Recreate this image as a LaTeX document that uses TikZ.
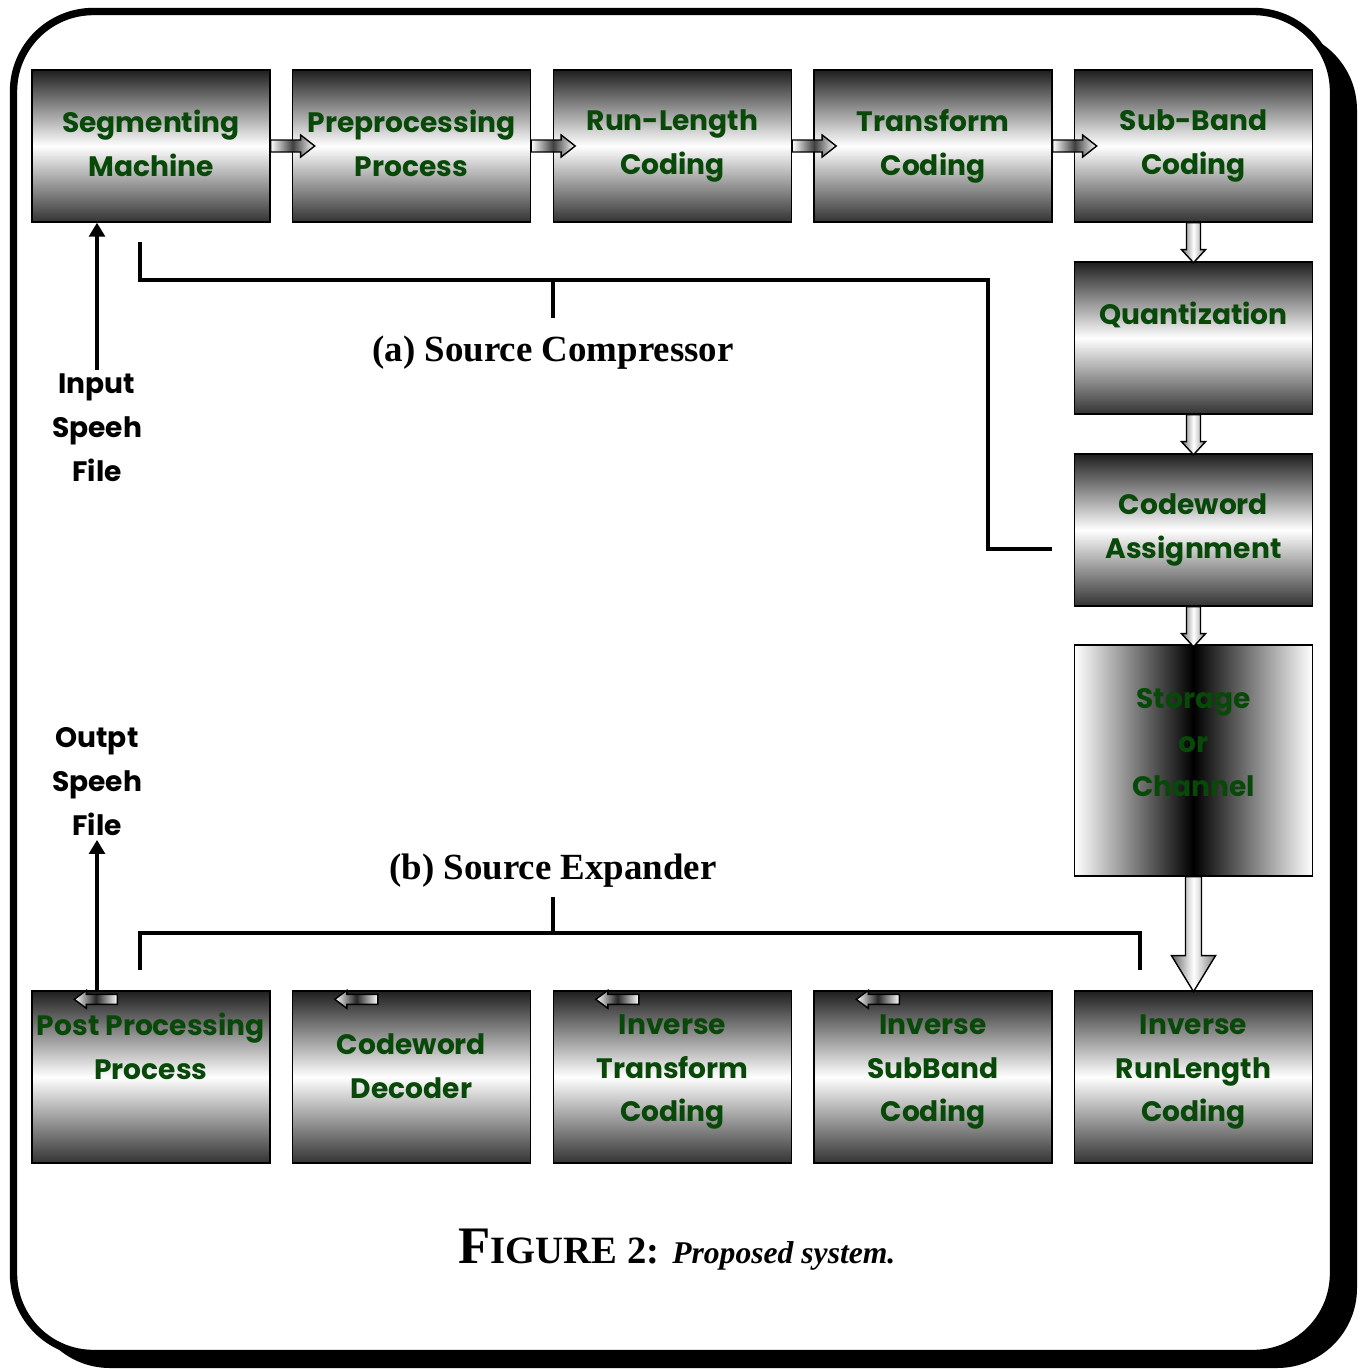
\documentclass[tikz,border=0pt]{standalone}
\usepackage{fontspec}
\usepackage{xcolor}
\usetikzlibrary{arrows.meta, positioning}
\newfontfamily\comic{Poppins}
\newfontfamily\tms{Liberation Serif}
\definecolor{dkgreen}{RGB}{8,72,8}

\begin{document}
\begin{tikzpicture}
    [x=0.02cm, y=-0.02cm,
     boxbase/.style={draw, line width=0.8pt, minimum width=4.76cm, inner sep=0pt, align=center,
                     text=dkgreen, font=\comic\bfseries\fontsize{16}{25}\selectfont},
     blk/.style={boxbase, minimum height=3.04cm, top color=black!88, bottom color=black!80, middle color=white},
     lowblk/.style={boxbase, minimum height=3.44cm, top color=black!88, bottom color=black!80, middle color=white},
     chan/.style={boxbase, minimum height=4.62cm, left color=white, right color=white, middle color=black},
     txt/.style={align=center, inner sep=0pt, text=dkgreen, font=\comic\bfseries\fontsize{16}{25}\selectfont},
     side/.style={align=center, inner sep=2pt, font=\comic\bfseries\fontsize{16}{25}\selectfont},
     brk/.style={line width=2pt},
     ptr/.style={line width=2pt, -{Triangle[length=8pt, width=9pt]}},
     rblk/.pic={\path[draw, line width=0.8pt, left color=white, right color=white, middle color=black!75]
                (0,-6) -- (30,-6) -- (30,-11) -- (44,0) -- (30,11) -- (30,6) -- (0,6) -- cycle;},
     lblk/.pic={\path[draw, line width=0.8pt, left color=white, right color=white, middle color=black!85]
                (0,0) -- (12,-9) -- (12,-5) -- (43,-5) -- (43,5) -- (12,5) -- (12,9) -- cycle;},
     dblk/.pic={\path[draw, line width=0.8pt, left color=black!55, right color=black!45, middle color=white]
                (-7,0) -- (-7,27) -- (-12,27) -- (0,40) -- (12,27) -- (7,27) -- (7,0) -- cycle;},
     bigblk/.pic={\path[draw, line width=0.8pt, left color=black!60, right color=black!50, middle color=white]
                (-8,0) -- (-8,79) -- (-22,79) -- (0,115) -- (22,79) -- (8,79) -- (8,0) -- cycle;}]

    \useasboundingbox (0,0) rectangle (1359,1369);

    % frame with shadow
    \fill[rounded corners=1.6cm] (30,30) rectangle (1357,1368);
    \draw[line width=4.2pt, fill=white, rounded corners=1.6cm] (13.5,11.5) rectangle (1333.5,1353.5);

    % compressor
    \node[blk] (seg) at (151,146) {};
    \node[txt] (seg-t) at (151,143) {Segmenting\\Machine};
    \node[blk] (pre) at (411.5,146) {};
    \node[txt] (pre-t) at (411.5,143) {Preprocessing\\Process};
    \node[blk] (rl) at (672.5,146) {Run-Length\\Coding};
    \node[blk] (tr) at (933,146) {Transform\\Coding};
    \node[blk] (sb) at (1193.5,146) {Sub-Band\\Coding};
    \node[blk] (quant) at (1193.5,338) {};
    \node[txt] (quant-t) at (1193.5,315) {Quantization};
    \node[blk] (assign) at (1193.5,530) {Codeword\\Assignment};
    \node[chan] (store) at (1193.5,760.5) {};
    \node[txt] (store-t) at (1193.5,743) {Storage\\or\\Channel};

    % expander
    \node[lowblk] (post) at (151,1077) {};
    \node[txt] (post-t) at (151,1046) {Post Processing\\Process};
    \node[lowblk] (dec) at (411.5,1077) {};
    \node[txt] (dec-t) at (411.5,1066) {Codeword\\Decoder};
    \node[lowblk] (itr) at (672.5,1077) {};
    \node[txt] (itr-t) at (672.5,1072) {Inverse\\Transform\\Coding};
    \node[lowblk] (isb) at (933,1077) {};
    \node[txt] (isb-t) at (933,1072) {Inverse\\SubBand\\Coding};
    \node[lowblk] (irl) at (1193.5,1077) {};
    \node[txt] (irl-t) at (1193.5,1072) {Inverse\\RunLength\\Coding};

    % block arrows
    \pic at (seg.east) {rblk};
    \pic at (pre.east) {rblk};
    \pic at (rl.east) {rblk};
    \pic at (tr.east) {rblk};
    \pic at (sb.south) {dblk};
    \pic at (quant.south) {dblk};
    \pic at (assign.south) {dblk};
    \pic at (store.south) {bigblk};
    \pic at ([shift={(43,9)}]post.north west) {lblk};
    \pic at ([shift={(43,9)}]dec.north west) {lblk};
    \pic at ([shift={(43,9)}]itr.north west) {lblk};
    \pic at ([shift={(43,9)}]isb.north west) {lblk};

    % input / output
    \node[side] (in-t) at (97,428) {Input\\Speeh\\File};
    \node[side] (out-t) at (97,782) {Outpt\\Speeh\\File};
    \draw[ptr] (in-t.north) -- (in-t.north |- seg.south);
    \draw[ptr] (out-t.south |- post.north) -- (out-t.south);

    % group brackets
    \node[font=\tms\bfseries\fontsize{21}{25}\selectfont] (src-a) at (553,353) {(a) Source Compressor};
    \node[font=\tms\bfseries\fontsize{21}{25}\selectfont] (src-b) at (553,871) {(b) Source Expander};
    \draw[brk] (140,242) |- (988,280) |- (1052,549);
    \draw[brk] (553,280) -- (553,318);
    \draw[brk] (140,970) |- (1140,933) -- (1140,970);
    \draw[brk] (553,933) -- (553,897);

    \node[font=\tms\bfseries] (cap) at (677,1250)
        {\fontsize{30}{36}\selectfont F\fontsize{22}{26}\selectfont IGURE 2: \itshape\fontsize{18}{22}\selectfont Proposed system.};
\end{tikzpicture}
\end{document}
